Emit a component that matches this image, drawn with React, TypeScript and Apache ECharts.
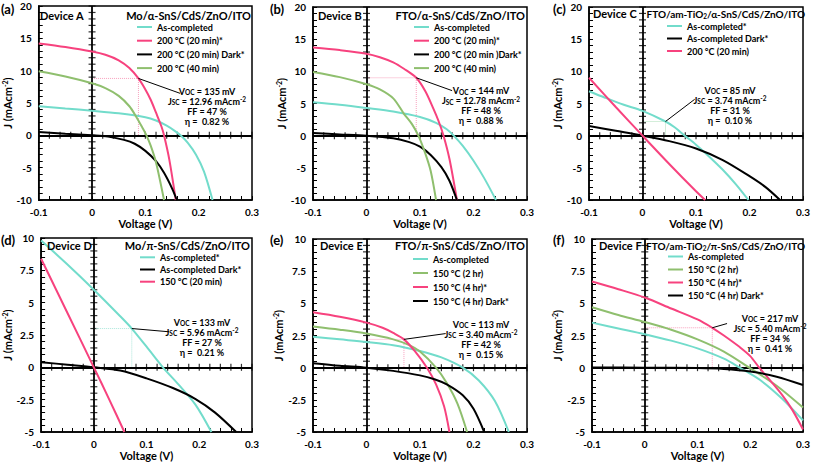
import React, { useEffect, useRef } from "react";
import * as echarts from "echarts";

const FONT = "Lato";
const CYAN = "#72dccb";
const PINK = "#f7427e";
const GREEN = "#8fbf6e";
const BLACK = "#000000";

// ---------- Device A : Mo/α-SnS/CdS/ZnO/ITO  (V, J) ----------
const aNames = ["As-completed", "200 °C (20 min)*", "200 °C (20 min) Dark*", "200 °C (40 min)"];
const aAsCompleted = [[-0.1, 4.5], [-0.05, 4.15], [0, 3.8], [0.05, 3.4], [0.1, 2.8], [0.12, 2.3], [0.14, 1.5], [0.155, 0.7], [0.166, 0], [0.18, -1.2], [0.195, -3.0], [0.21, -5.6], [0.226, -10]];
const a200c20 = [[-0.1, 14.2], [-0.05, 13.65], [0, 12.95], [0.025, 12.45], [0.05, 11.6], [0.07, 10.4], [0.087, 8.8], [0.1, 7.1], [0.11, 5.5], [0.12, 3.5], [0.13, 1.4], [0.135, 0], [0.145, -3.8], [0.157, -10]];
const a200c20Dark = [[-0.1, 0.5], [-0.05, 0.25], [0, 0], [0.03, -0.2], [0.06, -0.7], [0.08, -1.3], [0.1, -2.4], [0.12, -4.0], [0.135, -5.8], [0.15, -8.2], [0.159, -10]];
const a200c40 = [[-0.1, 9.9], [-0.05, 9.1], [0, 8.05], [0.025, 7.3], [0.05, 6.1], [0.07, 4.5], [0.082, 3.0], [0.095, 1.1], [0.102, 0], [0.11, -1.6], [0.12, -4.2], [0.135, -10]];
const aMpp = [0.087, 8.8];
const aLeaderEnd = [0.165, 6.5];
const aStats = ["135", "12.96", "47", "0.82"];

// ---------- Device B : FTO/α-SnS/CdS/ZnO/ITO ----------
const bNames = ["As-completed", "200 °C (20 min)*", "200 °C (20 min )Dark*", "200 °C (40 min)"];
const bAsCompleted = [[-0.1, 5.2], [-0.05, 4.8], [0, 4.3], [0.05, 3.75], [0.1, 2.9], [0.13, 2.0], [0.15, 1.0], [0.163, 0], [0.18, -1.6], [0.2, -3.9], [0.22, -6.6], [0.242, -10]];
const b200c20 = [[-0.1, 13.7], [-0.05, 13.3], [0, 12.75], [0.025, 12.2], [0.05, 11.4], [0.07, 10.4], [0.093, 9.0], [0.11, 6.9], [0.125, 4.2], [0.135, 2.2], [0.144, 0], [0.155, -3.6], [0.169, -10]];
const b200c20Dark = [[-0.1, 0.4], [-0.05, 0.2], [0, 0], [0.05, -0.4], [0.08, -1.0], [0.1, -1.7], [0.12, -3.0], [0.14, -4.9], [0.155, -7.0], [0.169, -10]];
const b200c40 = [[-0.1, 9.9], [-0.05, 9.1], [0, 8.0], [0.025, 7.2], [0.05, 5.8], [0.07, 3.4], [0.085, 1.8], [0.097, 0], [0.11, -2.8], [0.12, -5.5], [0.13, -10]];
const bMpp = [0.093, 9.0];
const bLeaderEnd = [0.16, 7.0];
const bStats = ["144", "12.78", "48", "0.88"];

// ---------- Device C : FTO/am-TiO2/α-SnS/CdS/ZnO/ITO ----------
const cNames = ["As-completed*", "As-completed Dark*", "200 °C (20 min)"];
const cAsCompleted = [[-0.1, 6.9], [-0.07, 5.9], [-0.035, 4.8], [0, 3.85], [0.043, 2.2], [0.06, 1.3], [0.079, 0], [0.1, -1.4], [0.12, -2.9], [0.15, -5.3], [0.175, -7.6], [0.198, -10]];
const cAsCompletedDark = [[-0.1, 1.5], [-0.05, 0.75], [0, 0], [0.05, -0.85], [0.1, -2.0], [0.15, -3.8], [0.2, -6.3], [0.23, -8.0], [0.257, -10]];
const c200c20 = [[-0.1, 9.0], [-0.05, 4.45], [0, 0], [0.05, -4.4], [0.1, -8.65], [0.117, -10]];
const cMpp = [0.043, 2.2];
const cLeaderEnd = [0.0975, 5.65];
const cStats = ["85", "3.74", "31", "0.10"];

// ---------- Device D : Mo/π-SnS/CdS/ZnO/ITO ----------
const dNames = ["As-completed*", "As-completed Dark*", "150 °C (20 min)"];
const dAsCompleted = [[-0.1, 9.8], [-0.05, 7.95], [0, 6.0], [0.05, 3.95], [0.072, 3.0], [0.1, 1.6], [0.131, 0], [0.16, -1.3], [0.193, -2.9], [0.223, -5]];
const dAsCompletedDark = [[-0.1, 0.4], [-0.05, 0.2], [0, 0], [0.05, -0.25], [0.1, -0.85], [0.15, -1.6], [0.193, -2.45], [0.23, -3.5], [0.27, -5]];
const d150c20 = [[-0.1, 8.4], [-0.05, 4.2], [0, 0], [0.03, -2.55], [0.058, -5]];
const dMpp = [0.072, 3.0];
const dLeaderEnd = [0.1425, 2.75];
const dStats = ["133", "5.96", "27", "0.21"];

// ---------- Device E : FTO/π-SnS/CdS/ZnO/ITO ----------
const eNames = ["As-completed", "150 °C (2 hr)", "150 °C (4 hr)*", "150 °C (4 hr) Dark*"];
const eAsCompleted = [[-0.1, 2.4], [-0.05, 2.2], [0, 2.0], [0.05, 1.75], [0.1, 1.3], [0.14, 0.8], [0.18, 0], [0.21, -1.0], [0.24, -2.6], [0.266, -5]];
const e150c2h = [[-0.1, 3.2], [-0.05, 2.95], [0, 2.65], [0.05, 2.2], [0.08, 1.75], [0.1, 1.25], [0.13, 0], [0.15, -1.2], [0.17, -2.8], [0.188, -5]];
const e150c4h = [[-0.1, 4.3], [-0.05, 3.95], [0, 3.5], [0.03, 3.1], [0.05, 2.7], [0.07, 2.2], [0.09, 1.3], [0.113, 0], [0.13, -1.3], [0.145, -3.0], [0.155, -5]];
const e150c4hDark = [[-0.1, 0.35], [-0.05, 0.15], [0, 0], [0.05, -0.25], [0.1, -0.6], [0.127, -0.9], [0.15, -1.3], [0.18, -2.15], [0.2, -3.2], [0.22, -5]];
const eMpp = [0.07, 2.2];
const eLeaderEnd = [0.148, 2.65];
const eStats = ["113", "3.40", "42", "0.15"];

// ---------- Device F : FTO/am-TiO2/π-SnS/CdS/ZnO/ITO ----------
const fNames = ["As-completed", "150 °C (2 hr)", "150 °C (4 hr)*", "150 °C (4 hr) Dark*"];
const fAsCompleted = [[-0.1, 3.5], [-0.05, 3.05], [0, 2.6], [0.05, 2.1], [0.1, 1.5], [0.15, 0.7], [0.18, 0], [0.22, -1.0], [0.26, -2.4], [0.3, -4.1]];
const f150c2h = [[-0.1, 4.7], [-0.05, 4.1], [0, 3.55], [0.05, 2.95], [0.1, 2.2], [0.15, 1.25], [0.198, 0], [0.25, -1.4], [0.3, -3.1]];
const f150c4h = [[-0.1, 6.7], [-0.05, 6.1], [0, 5.45], [0.05, 4.6], [0.1, 3.75], [0.128, 3.1], [0.15, 2.5], [0.18, 1.6], [0.2, 0.9], [0.217, 0], [0.24, -1.1], [0.26, -2.1], [0.28, -3.3], [0.3, -4.8]];
const f150c4hDark = [[-0.1, 0.02], [0, 0], [0.1, -0.03], [0.15, -0.1], [0.2, -0.3], [0.25, -0.7], [0.3, -1.35]];
const fMpp = [0.128, 3.1];
const fLeaderEnd = [0.156, 3.43];
const fStats = ["217", "5.40", "34", "0.41"];

// axis ranges
const xRange = { min: -0.1, max: 0.3, interval: 0.1, minor: 0.02 };
const yRangeTop = { min: -10, max: 20, interval: 5, minor: 1 };
const yRangeBottom = { min: -5, max: 10, interval: 2.5, minor: 0.5 };

const PINK_DOT = "#f7a1be";
const panels = [
  {
    tag: "(a)", device: "Device A", title: "Mo/α-SnS/CdS/ZnO/ITO", titleSize: 11,
    curves: [
      { name: aNames[0], color: CYAN, data: aAsCompleted },
      { name: aNames[1], color: PINK, data: a200c20 },
      { name: aNames[2], color: BLACK, data: a200c20Dark },
      { name: aNames[3], color: GREEN, data: a200c40 },
    ],
    mpp: aMpp, leaderEnd: aLeaderEnd, stats: aStats, mppColor: PINK_DOT, y: yRangeTop,
    grid: [35, 6, 217, 194], yNameGap: 19.5, tagPos: [1, 2], devicePos: [40, 9.5],
    titleEnd: [251, 9.5], legendPos: [137, 22.5], legendGap: 4.7, annot: [207, 86],
  },
  {
    tag: "(b)", device: "Device B", title: "FTO/α-SnS/CdS/ZnO/ITO", titleSize: 11,
    curves: [
      { name: bNames[0], color: CYAN, data: bAsCompleted },
      { name: bNames[1], color: PINK, data: b200c20 },
      { name: bNames[2], color: BLACK, data: b200c20Dark },
      { name: bNames[3], color: GREEN, data: b200c40 },
    ],
    mpp: bMpp, leaderEnd: bLeaderEnd, stats: bStats, mppColor: PINK_DOT, y: yRangeTop,
    grid: [313, 7, 214, 193], yNameGap: 19.5, tagPos: [270, 2], devicePos: [318, 9.5],
    titleEnd: [525, 9.5], legendPos: [414, 22.5], legendGap: 4.7, annot: [481, 85.7],
  },
  {
    tag: "(c)", device: "Device C", title: "FTO/am-TiO{s|2}/α-SnS/CdS/ZnO/ITO", titleSize: 10,
    curves: [
      { name: cNames[0], color: CYAN, data: cAsCompleted },
      { name: cNames[1], color: BLACK, data: cAsCompletedDark },
      { name: cNames[2], color: PINK, data: c200c20 },
    ],
    mpp: cMpp, leaderEnd: cLeaderEnd, stats: cStats, mppColor: "#a9dcb5", y: yRangeTop,
    grid: [589, 7, 216, 193], yNameGap: 20.5, tagPos: [553, 2], devicePos: [593, 8],
    titleEnd: [805, 8], legendPos: [667, 21.5], legendGap: 3.5, annot: [730, 85],
  },
  {
    tag: "(d)", device: "Device D", title: "Mo/π-SnS/CdS/ZnO/ITO", titleSize: 11,
    curves: [
      { name: dNames[0], color: CYAN, data: dAsCompleted },
      { name: dNames[1], color: BLACK, data: dAsCompletedDark },
      { name: dNames[2], color: PINK, data: d150c20 },
    ],
    mpp: dMpp, leaderEnd: dLeaderEnd, stats: dStats, mppColor: "#a9e6da", y: yRangeBottom,
    grid: [39, 238, 213, 194], yNameGap: 21.5, tagPos: [1, 233.5], devicePos: [47, 239.5],
    titleEnd: [250, 239.5], legendPos: [140, 252.8], legendGap: 3.2, annot: [202, 317],
  },
  {
    tag: "(e)", device: "Device E", title: "FTO/π-SnS/CdS/ZnO/ITO", titleSize: 11,
    curves: [
      { name: eNames[0], color: CYAN, data: eAsCompleted },
      { name: eNames[1], color: GREEN, data: e150c2h },
      { name: eNames[2], color: PINK, data: e150c4h },
      { name: eNames[3], color: BLACK, data: e150c4hDark },
    ],
    mpp: eMpp, leaderEnd: eLeaderEnd, stats: eStats, mppColor: PINK_DOT, y: yRangeBottom,
    grid: [313, 239, 214, 193], yNameGap: 19.5, tagPos: [270, 233.5], devicePos: [320, 240],
    titleEnd: [525, 240], legendPos: [413, 254.5], legendGap: 5, annot: [481, 319],
  },
  {
    tag: "(f)", device: "Device F", title: "FTO/am-TiO{s|2}/π-SnS/CdS/ZnO/ITO", titleSize: 10,
    curves: [
      { name: fNames[0], color: CYAN, data: fAsCompleted },
      { name: fNames[1], color: GREEN, data: f150c2h },
      { name: fNames[2], color: PINK, data: f150c4h },
      { name: fNames[3], color: BLACK, data: f150c4hDark },
    ],
    mpp: fMpp, leaderEnd: fLeaderEnd, stats: fStats, mppColor: PINK_DOT, y: yRangeBottom,
    grid: [592, 239, 214, 193], yNameGap: 23, tagPos: [553, 233.5], devicePos: [599, 239.5],
    titleEnd: [805, 240], legendPos: [668, 252], legendGap: 4, annot: [770, 313.3],
  },
];

function buildOption() {
  const grid: any[] = [], xAxis: any[] = [], yAxis: any[] = [], series: any[] = [];
  const legend: any[] = [], title: any[] = [], graphic: any[] = [];
  const bold = { color: "#000", fontFamily: FONT, fontWeight: "bold" };

  panels.forEach((p, i) => {
    const [gl, gt, gw, gh] = p.grid;
    grid.push({ left: gl, top: gt, width: gw, height: gh, show: true, borderColor: "#000", borderWidth: 1.5, backgroundColor: "transparent" });

    xAxis.push({
      gridIndex: i, type: "value", min: xRange.min, max: xRange.max, interval: xRange.interval, position: "bottom",
      axisLine: { show: true, onZero: false, lineStyle: { color: "#000", width: 1.5 } },
      axisTick: { show: true, inside: true, length: 4, lineStyle: { color: "#000", width: 1 } },
      minorTick: { show: true, splitNumber: 5, length: 4, lineStyle: { color: "#000", width: 1 } },
      splitLine: { show: false }, minorSplitLine: { show: false },
      axisLabel: { ...bold, fontSize: 10, margin: 7, formatter: (v: number) => (Math.abs(v) < 1e-9 ? "0" : v.toFixed(1)) },
      name: "Voltage (V)", nameLocation: "middle", nameGap: 15.5,
      nameTextStyle: { ...bold, fontSize: 11 },
    });

    yAxis.push({
      gridIndex: i, type: "value", min: p.y.min, max: p.y.max, interval: p.y.interval,
      axisLine: { show: true, onZero: false, lineStyle: { color: "#000", width: 1.5 } },
      axisTick: { show: true, inside: true, length: 4, lineStyle: { color: "#000", width: 1 } },
      minorTick: { show: true, splitNumber: 5, length: 4, lineStyle: { color: "#000", width: 1 } },
      splitLine: { show: false }, minorSplitLine: { show: false },
      axisLabel: { ...bold, fontSize: 10, margin: 7 },
      name: "{n|J (mAcm}{p|-2}{n|)}", nameLocation: "middle", nameGap: p.yNameGap, nameRotate: 90,
      nameTextStyle: {
        ...bold, fontSize: 11,
        rich: {
          n: { ...bold, fontSize: 11, lineHeight: 12 },
          p: { ...bold, fontSize: 7, verticalAlign: "top", lineHeight: 7 },
        },
      },
    });

    // zero lines with crossing ticks
    const yTicks: number[][] = [];
    const kMin = Math.round(p.y.min / p.y.minor), kMax = Math.round(p.y.max / p.y.minor);
    for (let k = kMin; k <= kMax; k++) yTicks.push([0, +(k * p.y.minor).toFixed(3)]);
    const xTicks: number[][] = [];
    const jMin = Math.round(xRange.min / xRange.minor), jMax = Math.round(xRange.max / xRange.minor);
    for (let j = jMin; j <= jMax; j++) xTicks.push([+(j * xRange.minor).toFixed(3), 0]);

    series.push({
      type: "scatter", xAxisIndex: i, yAxisIndex: i, symbol: "rect", symbolSize: [7, 1.2], data: yTicks,
      itemStyle: { color: "#000" }, silent: true, z: 3,
      markLine: {
        silent: true, symbol: ["none", "none"], label: { show: false },
        lineStyle: { color: "#000", width: 1.8, type: "solid" },
        data: [{ xAxis: 0 }, { yAxis: 0 }],
      },
    });
    series.push({
      type: "scatter", xAxisIndex: i, yAxisIndex: i, symbol: "rect", symbolSize: [1.2, 7], data: xTicks,
      itemStyle: { color: "#000" }, silent: true, z: 3,
    });

    // maximum power point guide
    series.push({
      type: "line", xAxisIndex: i, yAxisIndex: i, silent: true, z: 4, symbol: "none",
      data: [[0, p.mpp[1]], [p.mpp[0], p.mpp[1]], [p.mpp[0], 0]],
      lineStyle: { color: p.mppColor, width: 1, type: "dotted" },
    });
    // leader line
    series.push({
      type: "line", xAxisIndex: i, yAxisIndex: i, silent: true, z: 6, symbol: "none",
      data: [p.mpp, p.leaderEnd], lineStyle: { color: "#000", width: 1 },
    });

    p.curves.forEach((c) => {
      series.push({
        type: "line", name: c.name, xAxisIndex: i, yAxisIndex: i, data: c.data,
        smooth: 0.3, symbol: "none", showSymbol: false, color: c.color,
        itemStyle: { color: c.color }, lineStyle: { color: c.color, width: 2 }, z: 5,
      });
    });

    legend.push({
      data: p.curves.map((c) => c.name), orient: "vertical", left: p.legendPos[0], top: p.legendPos[1],
      itemWidth: 15, itemHeight: 2, icon: "rect", itemGap: p.legendGap, padding: 0, selectedMode: false,
      textStyle: { ...bold, fontSize: 9 },
    });

    const titleStyle = { ...bold, fontSize: 11 };
    title.push({ text: p.tag, left: p.tagPos[0], top: p.tagPos[1], padding: 0, textStyle: { ...bold, fontSize: 13 } });
    title.push({ text: p.device, left: p.devicePos[0], top: p.devicePos[1], padding: 0, textStyle: titleStyle });

    const zt = { fontSize: p.titleSize, fontWeight: "bold", fontFamily: FONT, fill: "#000" };
    graphic.push({
      type: "text", x: p.titleEnd[0], y: p.titleEnd[1], silent: true, z: 10,
      style: {
        text: p.title.includes("{") ? p.title.replace(/^([^{]*)/, "{m|$1").replace(/\{s\|2\}/, "}{s|2}{m|") + "}" : p.title,
        textAlign: "right", textVerticalAlign: "top",
        ...zt,
        rich: {
          m: { ...zt, lineHeight: 12 },
          s: { fontSize: 6.5, fontWeight: "bold", fontFamily: FONT, fill: "#000", verticalAlign: "bottom" },
        },
      },
    });

    const tk = { fontSize: 9, fontWeight: "bold", fontFamily: FONT, fill: "#000", lineHeight: 10 };
    graphic.push({
      type: "text", x: p.annot[0], y: p.annot[1], silent: true, z: 10,
      style: {
        text:
          `{t|V}{s|OC}{t| = ${p.stats[0]} mV}\n` +
          `{t|J}{s|SC}{t| = ${p.stats[1]} mAcm}{p|-2}\n` +
          `{t|FF = ${p.stats[2]} %}\n` +
          `{t|η =  ${p.stats[3]} %}`,
        textAlign: "center", textVerticalAlign: "top",
        fontSize: 9, fontWeight: "bold", fontFamily: FONT, fill: "#000",
        rich: {
          t: tk,
          s: { fontSize: 6.5, fontWeight: "bold", fontFamily: FONT, fill: "#000", verticalAlign: "bottom" },
          p: { fontSize: 6.5, fontWeight: "bold", fontFamily: FONT, fill: "#000", verticalAlign: "top" },
        },
      },
    });
  });

  return {
    animation: false,
    backgroundColor: "#fff",
    textStyle: { fontFamily: FONT },
    grid, xAxis, yAxis, series, legend, title, graphic,
  };
}

export default function App() {
  const ref = useRef<HTMLDivElement>(null);
  useEffect(() => {
    document.body.style.margin = "0";
    const chart = echarts.init(ref.current as HTMLDivElement, null, { renderer: "svg" });
    chart.setOption(buildOption() as any);
    return () => chart.dispose();
  }, []);
  return <div ref={ref} style={{ width: 813, height: 462 }} />;
}
